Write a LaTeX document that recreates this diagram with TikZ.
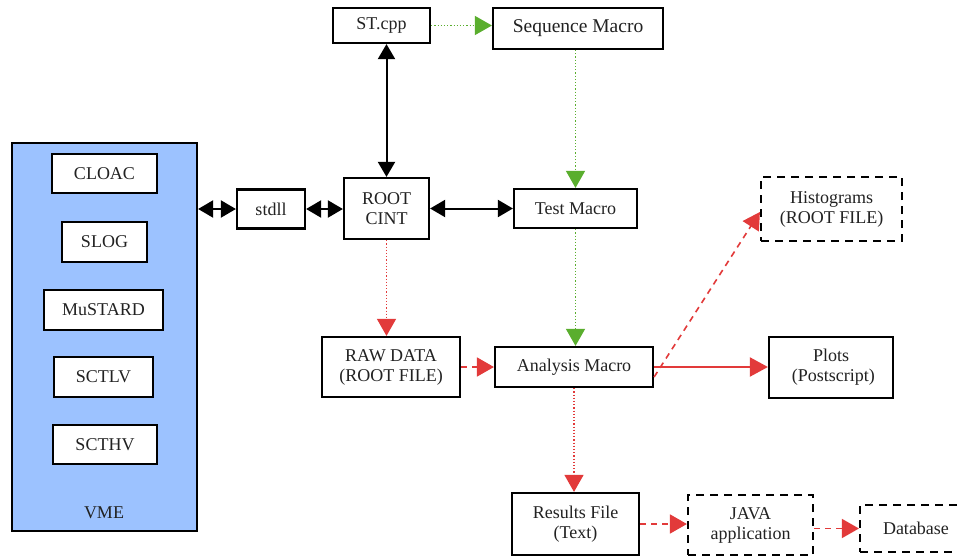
\documentclass[tikz,border=0pt]{standalone}
\usepackage{fontspec}
\setmainfont{Liberation Serif}
\usetikzlibrary{arrows.meta}
\definecolor{vmeblue}{HTML}{9CC2FF}
\definecolor{arrgreen}{HTML}{5AAE2E}
\definecolor{arrred}{HTML}{E23A3A}
\definecolor{txt}{HTML}{222222}
\tikzset{
  box/.style={draw=black, line width=2.2pt, fill=white, inner sep=0pt, align=center, text=txt, font=\fontsize{18}{20}\selectfont},
  dbox/.style={box, dash pattern=on 8pt off 6pt},
  blk/.style={line width=2pt, black, {Triangle[length=15pt,width=17pt]}-{Triangle[length=15pt,width=17pt]}},
  grn/.style={line width=1.2pt, arrgreen, dotted, -{Triangle[length=17pt,width=19pt]}},
  rdot/.style={line width=1.2pt, arrred, dotted, -{Triangle[length=17pt,width=19pt]}},
  rdash/.style={line width=1.6pt, arrred, dash pattern=on 6pt off 5pt, -{Triangle[length=17pt,width=19pt]}},
  rsolid/.style={line width=2pt, arrred, -{Triangle[length=18pt,width=19pt]}},
}
\begin{document}
\begin{tikzpicture}[x=1pt,y=-1pt]
\useasboundingbox (0,0) rectangle (958,559);
\clip (0,0) rectangle (958,559);
\fill[white] (0,0) rectangle (958,559);
% VME
\node[box, fill=vmeblue, minimum width=185pt, minimum height=388pt] (vme) at (104.5,337) {};
\node[text=txt, font=\fontsize{18}{20}\selectfont] (vmelbl) at (104,513) {VME};
\node[box, minimum width=105pt, minimum height=39pt] (cloac) at (104.5,173.5) {CLOAC};
\node[box, minimum width=85pt, minimum height=40pt] (slog) at (104.5,242) {SLOG};
\node[box, minimum width=119pt, minimum height=40pt] (mustard) at (103.5,310) {MuSTARD};
\node[box, minimum width=99pt, minimum height=40pt] (sctlv) at (103.5,377) {SCTLV};
\node[box, minimum width=104pt, minimum height=39pt] (scthv) at (105,444.5) {SCTHV};
% others
\node[box, minimum width=68pt, minimum height=39pt] (stdll) at (271,209) {stdll};
\node[box, minimum width=85pt, minimum height=61pt] (root) at (386.5,208.5) {ROOT\\CINT};
\node[box, minimum width=97pt, minimum height=35pt] (st) at (381.5,25.5) {ST.cpp};
\node[box, minimum width=170pt, minimum height=41pt, font=\fontsize{19.5}{21}\selectfont] (seq) at (578,28.5) {Sequence Macro};
\node[box, minimum width=123pt, minimum height=39pt] (test) at (575.5,208.5) {Test Macro};
\node[box, minimum width=138pt, minimum height=60pt] (raw) at (391,367) {RAW DATA\\(ROOT FILE)};
\node[box, minimum width=158pt, minimum height=40pt] (ana) at (574,367) {Analysis Macro};
\node[dbox, minimum width=141pt, minimum height=64pt] (hist) at (831.5,209) {Histograms\\(ROOT FILE)};
\node[box, minimum width=124pt, minimum height=61pt] (plots) at (831,367.5) {Plots\\\ (Postscript)};
\node[box, minimum width=127pt, minimum height=62pt] (res) at (575.5,524) {Results File\\(Text)};
\node[dbox, minimum width=125pt, minimum height=60pt] (java) at (750.5,525) {JAVA\\application};
\node[dbox, minimum width=130pt, minimum height=47pt, text width=100pt, align=left] (db) at (925,528.5) {\hspace{8pt}Database};
% connectors
\draw[blk] (vme.east |- stdll) -- (stdll.west);
\draw[blk] (stdll.east) -- (root.west |- stdll);
\draw[blk] (root.east |- test) -- (test.west);
\draw[blk] (root.north) -- (root.north |- st.south);
\draw[grn] (st.east) -- (seq.west |- st);
\draw[grn] (seq.south -| test.north) -- (test.north);
\draw[grn] (test.south) -- (test.south |- ana.north);
\draw[rdot] (root.south) -- (root.south |- raw.north);
\draw[rdash] (raw.east) -- (ana.west);
\draw[rdash] ([yshift=-10pt]ana.east) -- ([yshift=-3pt]hist.west);
\draw[rsolid] (ana.east) -- (plots.west |- ana);
\draw[rdot] (ana.south) -- (ana.south |- res.north);
\draw[rdash] (res.east) -- (java.west |- res);
\draw[rdash] (java.east |- db) -- (db.west);
\end{tikzpicture}
\end{document}
